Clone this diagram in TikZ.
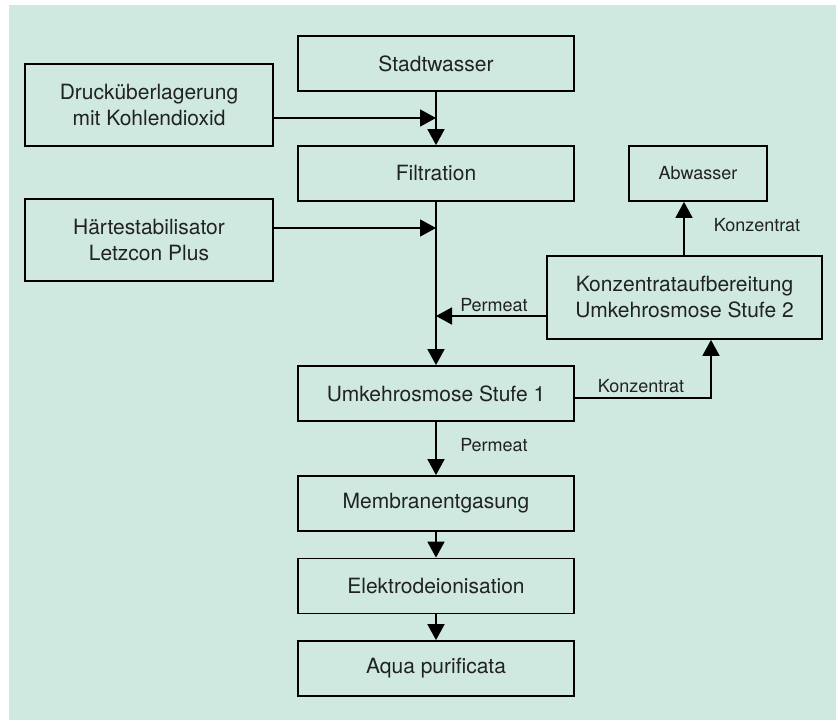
\documentclass[tikz,border=0pt]{standalone}
\usepackage{fontspec}
\setmainfont{TeX Gyre Heros}
\usetikzlibrary{arrows.meta}
\definecolor{bgmint}{HTML}{CFE9E1}
\definecolor{txtgray}{HTML}{222222}

\begin{document}
\begin{tikzpicture}[x=1pt, y=-1pt,
  stepbox/.style={
    draw, line width=1.8pt, inner sep=0pt, align=center,
    minimum width=276pt, minimum height=55pt,
    text=txtgray, font=\fontsize{21}{26}\selectfont,
  },
  sidebox/.style={stepbox, minimum width=248pt, minimum height=82pt},
  flow/.style={line width=1.8pt, -{Triangle[width=17pt,length=16pt]}},
  lbl/.style={text=txtgray, font=\fontsize{18}{22}\selectfont},
  ]
  \useasboundingbox (0,0) rectangle (836,720);
  \fill[bgmint] (9,5) rectangle (836,720);
  % main line
  \node [stepbox] (stadt) at (436,63.5) {Stadtwasser};
  \node [stepbox] (filt) at (436,173.5) {Filtration};
  \node [stepbox] (umk) at (436,393.5) {Umkehrosmose Stufe 1};
  \node [stepbox] (membran) at (436,503.5) {Membranentgasung};
  \node [stepbox] (elektro) at (436,586) {Elektrodeionisation};
  \node [stepbox] (aqua) at (436,668.5) {Aqua purificata};
  % side inputs
  \node [sidebox] (druck) at (149,105) {Drucküberlagerung\\mit Kohlendioxid};
  \node [sidebox] (haerte) at (149,240) {Härtestabilisator\\Letzcon Plus};
  % second stage
  \node [stepbox, minimum width=275pt, minimum height=83pt] (konz) at (684.5,297.5)
    {Konzentrataufbereitung\\Umkehrosmose Stufe 2};
  \node [stepbox, minimum width=138pt, font=\fontsize{18}{22}\selectfont] (abw) at (698,173.5) {Abwasser};
  \coordinate (jDruck) at (436,118);
  \coordinate (jHaerte) at (436,228);
  \coordinate (jPerm) at (436,316);
  \coordinate (kBend) at (711,398);
  \coordinate (kUp) at (684,250);
  \draw [flow] (stadt) -- (filt);
  \draw [flow] (druck.east |- jDruck) -- (jDruck);
  \draw [flow] (filt) -- (umk);
  \draw [flow] (haerte.east |- jHaerte) -- (jHaerte);
  \draw [flow] (konz.west |- jPerm) -- (jPerm);
  \draw [flow] (umk.east |- kBend) -- (kBend) -- (konz.south -| kBend);
  \draw [flow] (konz.north -| kUp) -- (abw.south -| kUp);
  \draw [flow] (umk) -- (membran);
  \draw [flow] (membran) -- (elektro);
  \draw [flow] (elektro) -- (aqua);
  % labels
  \node [lbl] (permOben) at (494,305) {Permeat};
  \node [lbl] (permUnten) at (494,445) {Permeat};
  \node [lbl] (konzOben) at (757,225) {Konzentrat};
  \node [lbl] (konzUnten) at (641,386) {Konzentrat};
\end{tikzpicture}
\end{document}
